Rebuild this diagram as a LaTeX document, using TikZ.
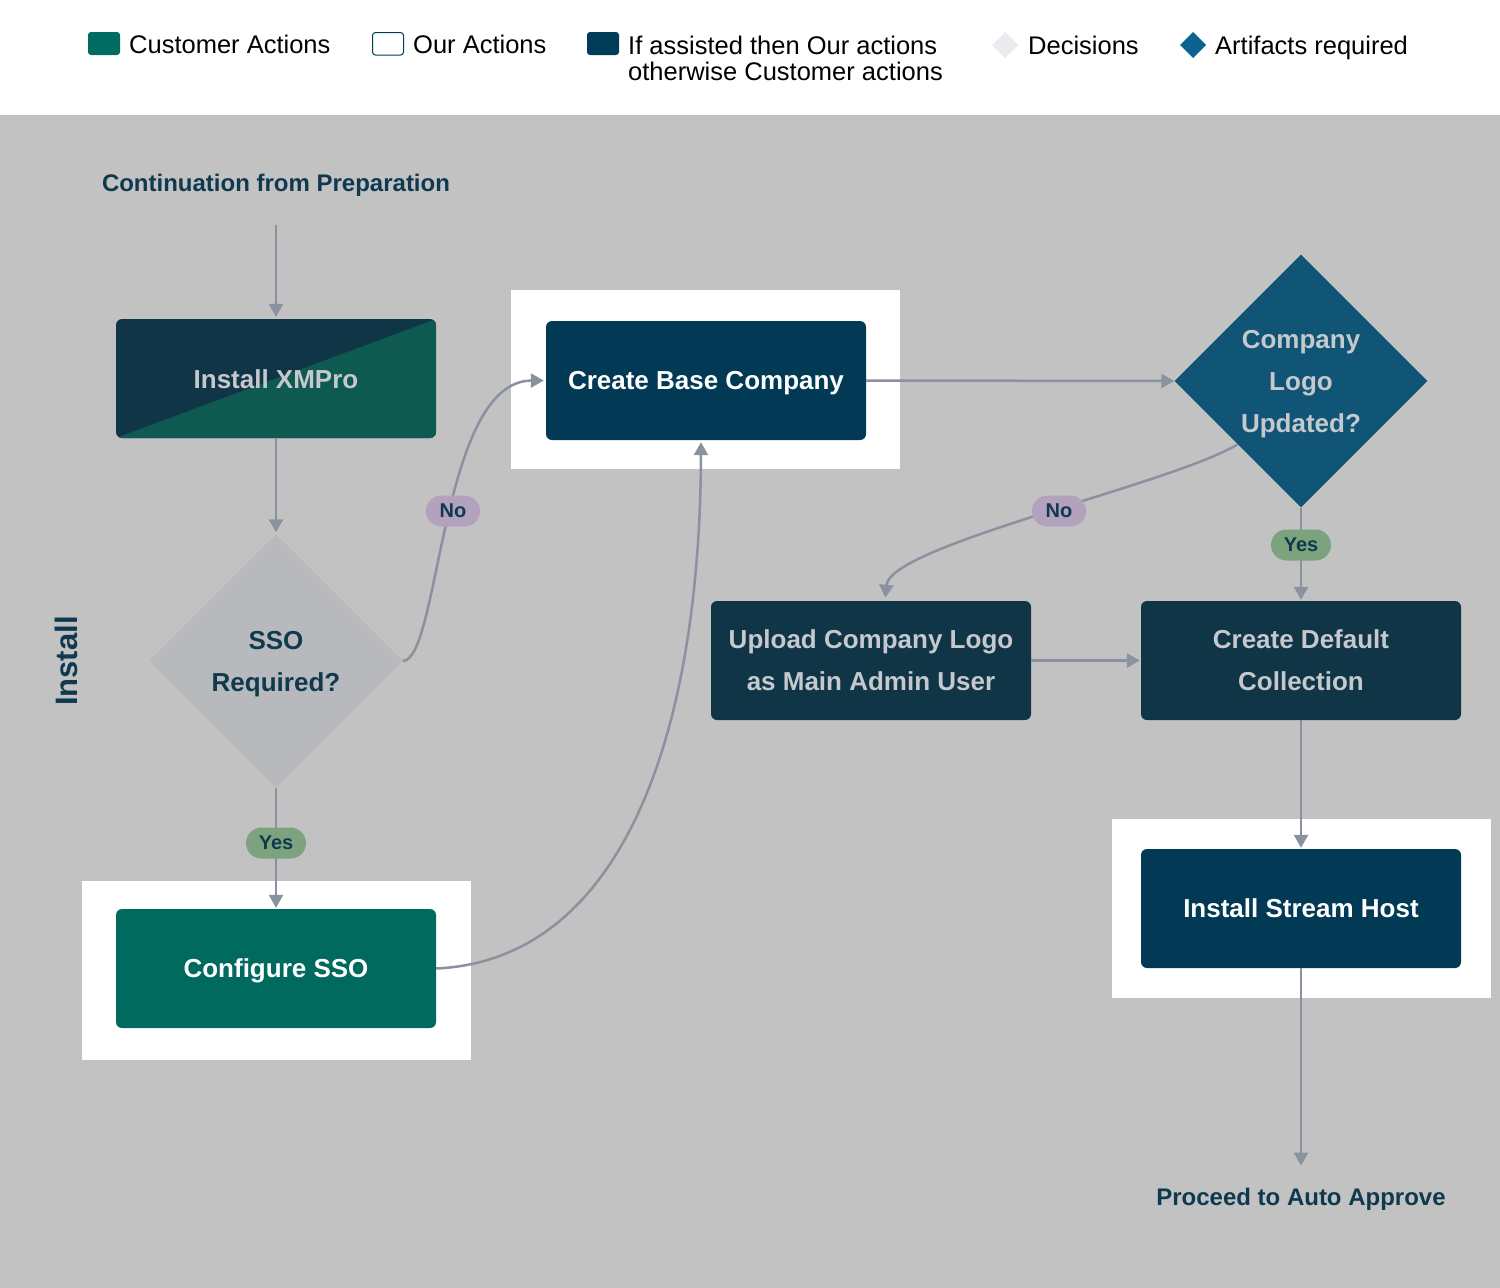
\documentclass[tikz,border=0pt]{standalone}
\usepackage{fontspec}
\setmainfont{Liberation Sans}
\usetikzlibrary{arrows.meta,shapes.geometric,shapes.misc}
\definecolor{bggray}{HTML}{C2C2C2}
\definecolor{navyc}{HTML}{023A55}
\definecolor{tealc}{HTML}{006A5F}
\definecolor{dimnavy}{HTML}{103547}
\definecolor{dimgreen}{HTML}{0F5A50}
\definecolor{dimblue}{HTML}{105575}
\definecolor{dimtext}{HTML}{C5C9CE}
\definecolor{inktext}{HTML}{0F394F}
\definecolor{ssogray}{HTML}{B8B9BD}
\definecolor{arrowc}{HTML}{8A919F}
\definecolor{nofill}{HTML}{B2A2BE}
\definecolor{yesfill}{HTML}{7CA27E}
\definecolor{legteal}{HTML}{006B60}
\definecolor{legnavy}{HTML}{003B58}
\definecolor{legdec}{HTML}{E9EBF0}
\definecolor{legart}{HTML}{0A6391}
\tikzset{
  box/.style={rectangle, rounded corners=6pt, minimum width=320pt, minimum height=119pt,
    inner sep=0pt, align=center, text depth=0pt, font=\bfseries\fontsize{26}{42}\selectfont},
  dec/.style={diamond, minimum width=253pt, minimum height=253pt, inner sep=0pt,
    align=center, text depth=0pt, font=\bfseries\fontsize{26}{42}\selectfont},
  pill/.style={rounded rectangle, inner sep=0pt, minimum height=31pt,
    font=\bfseries\fontsize{20}{20}\selectfont, text=inktext},
  arr/.style={draw=arrowc, line width=2.5pt, -{Triangle[width=14pt,length=13pt]}},
  legtext/.style={inner sep=0pt, font=\fontsize{25.5}{26}\selectfont, text=black},
  title/.style={inner sep=0pt, font=\bfseries\fontsize{24}{24}\selectfont, text=inktext},
  hilite/.style={fill=white, draw=none}
}
\begin{document}
\begin{tikzpicture}[x=1pt,y=-1pt]
\useasboundingbox (0,0) rectangle (1500,1288);
% backgrounds
\fill[white] (0,0) rectangle (1500,115);
\fill[bggray] (0,115) rectangle (1500,1288);
\draw[color=black!25, line width=1pt] (0,115) -- (1500,115);
% legend
\fill[legteal, rounded corners=3pt] (88,32) rectangle (120,55);
\node[legtext, anchor=base west] (l1) at (129,53) {Customer Actions};
\draw[legnavy, line width=1pt, rounded corners=3pt] (372.5,32.5) rectangle (403.5,55);
\node[legtext, anchor=base west] (l2) at (413,53) {Our Actions};
\fill[legnavy, rounded corners=3pt] (587,32) rectangle (619,55);
\node[legtext, anchor=north west, align=left] (l3) at (628,36) {If assisted then Our actions\\otherwise Customer actions};
\fill[legdec] (1005,32) -- (1018,45) -- (1005,58) -- (992,45) -- cycle;
\node[legtext, anchor=base west] (l4) at (1028,54) {Decisions};
\fill[legart] (1193,32) -- (1206,45) -- (1193,58) -- (1180,45) -- cycle;
\node[legtext, anchor=base west] (l5) at (1215,54) {Artifacts required};
% highlight boxes
\fill[hilite] (511,290) rectangle (900,469);
\fill[hilite] (82,881) rectangle (471,1060);
\fill[hilite] (1112,819) rectangle (1491,998);
% lane label
\node[rotate=90, inner sep=0pt, font=\bfseries\fontsize{31}{31}\selectfont, text=inktext] (lane) at (66,661) {Install};
% nodes
\node[title] (cont) at (276,185) {Continuation from Preparation};
\coordinate (contout) at (276,225);
\node[box, fill=dimnavy, text=dimtext,
  path picture={\fill[dimgreen] (path picture bounding box.south west) -- (path picture bounding box.north east) -- (path picture bounding box.south east) -- cycle;}]
  (xmpro) at (276,378.5) {\raisebox{-2pt}{Install XMPro}};
\node[dec, fill=ssogray, text=inktext] (sso) at (276,661) {SSO\\Required?};
\node[box, fill=tealc, text=white] (csso) at (276,968.5) {Configure SSO};
\node[box, fill=navyc, text=white] (cbc) at (706,380.5) {Create Base Company};
\node[dec, fill=dimblue, text=dimtext] (cl) at (1301,381) {Company\\Logo\\Updated?};
\node[box, fill=dimnavy, text=dimtext] (up) at (871,660.5) {Upload Company Logo\\as Main Admin User};
\node[box, fill=dimnavy, text=dimtext] (cdc) at (1301,660.5) {Create Default\\Collection};
\node[box, fill=navyc, text=white] (ish) at (1301,908.5) {Install Stream Host};
\node[title] (pa) at (1301,1199) {Proceed to Auto Approve};
% connectors
\draw[arr, shorten >=2pt] (contout) -- (xmpro);
\draw[arr, shorten >=2pt] (xmpro) -- (sso);
\draw[arr, shorten >=1pt] (sso.south) -- (csso.north);
\draw[arr, shorten >=2pt] (sso.east) .. controls (440,661) and (440,381) .. (cbc.west);
\draw[arr, shorten >=2pt] (csso.east) .. controls (620,960) and (700,740) .. ([xshift=-5pt]cbc.south);
\draw[arr] (cbc.east) -- (cl.west);
\draw[arr, shorten >=3pt] (cl.south west) .. controls (1170,485) and (890,545) .. ([xshift=14pt]up.north);
\draw[arr, shorten >=1pt] (cl.south) -- (cdc.north);
\draw[arr, shorten >=1pt] (up.east) -- (cdc.west);
\draw[arr, shorten >=1pt] (cdc.south) -- (ish.north);
\draw[arr, shorten >=22pt] (ish.south) -- (pa.north);
% labels
\node[pill, fill=nofill, minimum width=54pt] (no1) at (453,511) {No};
\node[pill, fill=yesfill, minimum width=60pt] (yes1) at (276,843) {Yes};
\node[pill, fill=nofill, minimum width=54pt] (no2) at (1059,511) {No};
\node[pill, fill=yesfill, minimum width=60pt] (yes2) at (1301,545) {Yes};
\end{tikzpicture}
\end{document}
